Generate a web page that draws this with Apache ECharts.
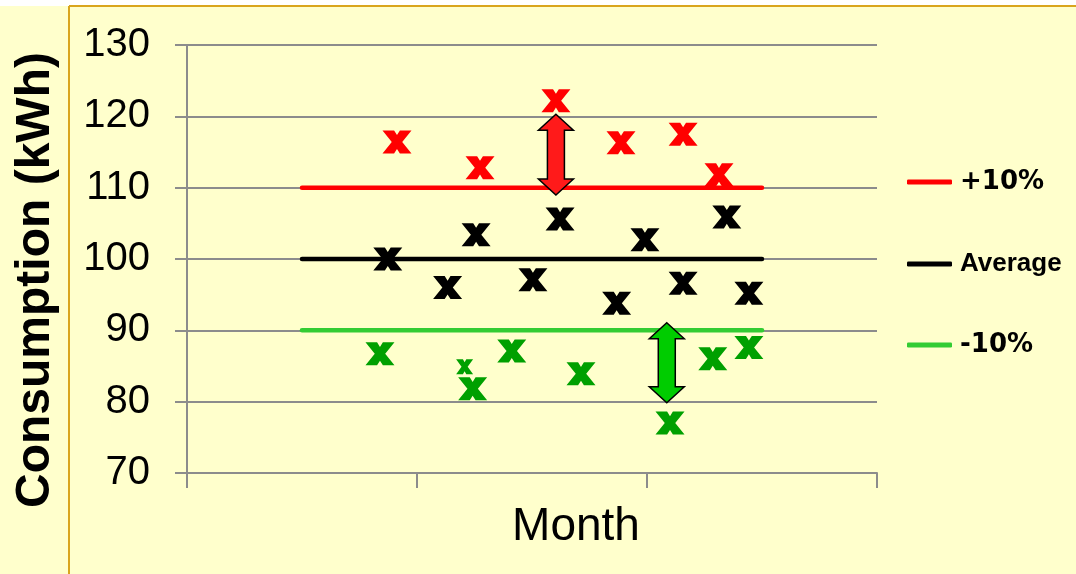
<!DOCTYPE html>
<html>
<head>
<meta charset="utf-8">
<script src="https://cdn.jsdelivr.net/npm/echarts@6/dist/echarts.min.js"></script>
<style>
  html, body { margin: 0; padding: 0; background: #ffffcc; }
  #chart { width: 1076px; height: 574px; }
</style>
</head>
<body>
<div id="chart"></div>
<script>
// Value range and reference levels (kWh)
const yTicks = [70, 80, 90, 100, 110, 120, 130];
const monthSpan = [0, 3];
const bandSpan = [0.5, 2.5];
const upperLevel = 110;
const averageLevel = 100;
const lowerLevel = 90;

// Monthly readings: [month position, consumption]
const highReadings = [
  [0.913, 116.4], [1.274, 112.8], [1.604, 122.2],
  [1.887, 116.3], [2.157, 117.5], [2.313, 111.8]
];
const normalReadings = [
  [0.873, 100.0], [1.133, 96.0], [1.257, 103.4], [1.504, 97.1], [1.622, 105.6],
  [1.868, 93.8], [1.991, 102.7], [2.157, 96.6], [2.347, 105.9], [2.443, 95.2]
];
const lowReadings = [
  [0.839, 86.7], [1.242, 81.8], [1.412, 87.1], [1.713, 83.9],
  [2.100, 77.0], [2.286, 86.0], [2.443, 87.6]
];
const minorLowReadings = [[1.207, 84.9]];

// Deviation arrows: [month position, lower end, upper end]
const deviationArrows = [
  [1.604, 108.97, 120.3],
  [2.086, 79.85, 91.07]
];

const LEVEL_NAMES = ['+10%', 'Average', '-10%'];
const arrowFills = ['#ff1a1a', '#00cc00'];

// Bold "x" mark drawn as a path
const X_MARK = 'path://M0,0 L40,0 L50,16 L60,0 L100,0 L68,40 L100,80 L60,80 L50,64 L40,80 L0,80 L32,40 Z';

const gray = '#8c8c8c';
const baseFont = '"Liberation Sans", Arial, sans-serif';
const wideFont = '"DejaVu Sans", Verdana, sans-serif';

function levelLine(name, level, color) {
  return {
    name: name,
    type: 'line',
    data: [[bandSpan[0], level], [bandSpan[1], level]],
    showSymbol: false,
    symbol: 'none',
    silent: true,
    z: 2,
    lineStyle: { color: color, width: 4.5, cap: 'round' },
    itemStyle: { color: color }
  };
}

function marks(data, color, size) {
  return {
    type: 'scatter',
    data: data,
    symbol: X_MARK,
    symbolSize: size,
    itemStyle: { color: color, opacity: 1 },
    z: 5,
    silent: true
  };
}

function legendFor(name, top, family, size) {
  return {
    data: [{ name: name, icon: 'roundRect' }],
    left: 907,
    top: top,
    padding: 0,
    orient: 'vertical',
    itemWidth: 45,
    itemHeight: 5,
    selectedMode: false,
    textStyle: {
      color: '#000',
      fontFamily: family,
      fontWeight: 'bold',
      fontSize: size,
      lineHeight: 30,
      padding: [0, 0, 0, 3]
    }
  };
}

const chart = echarts.init(document.getElementById('chart'), null, { renderer: 'canvas' });

chart.setOption({
  backgroundColor: '#ffffcc',
  animation: false,
  graphic: [
    { type: 'rect', shape: { x: 0, y: 0, width: 1076, height: 6 }, style: { fill: '#ffffff' }, silent: true },
    { type: 'line', shape: { x1: 69, y1: 6, x2: 1076, y2: 6 }, style: { stroke: '#d9a51e', lineWidth: 2 }, silent: true },
    { type: 'line', shape: { x1: 69, y1: 6, x2: 69, y2: 574 }, style: { stroke: '#d9a51e', lineWidth: 2 }, silent: true }
  ],
  legend: [
    legendFor(LEVEL_NAMES[0], 167, wideFont, 26),
    legendFor(LEVEL_NAMES[1], 249, baseFont, 26),
    legendFor(LEVEL_NAMES[2], 330, wideFont, 26)
  ],
  grid: { left: 187, right: 199, top: 45, bottom: 101, containLabel: false, outerBoundsMode: 'none' },
  xAxis: {
    type: 'value',
    min: monthSpan[0],
    max: monthSpan[1],
    interval: 1,
    name: 'Month',
    nameLocation: 'middle',
    nameGap: 31,
    nameTextStyle: { fontFamily: baseFont, fontSize: 46, color: '#000', padding: [0, 0, 0, 88] },
    axisLine: { show: true, onZero: false, lineStyle: { color: gray, width: 2 } },
    axisTick: { show: true, inside: false, length: 15, lineStyle: { color: gray, width: 2 } },
    axisLabel: { show: false },
    splitLine: { show: false }
  },
  yAxis: {
    type: 'value',
    min: yTicks[0],
    max: yTicks[yTicks.length - 1],
    interval: yTicks[1] - yTicks[0],
    name: 'Consumption (kWh)',
    nameLocation: 'middle',
    nameRotate: 90,
    nameGap: 127,
    nameTextStyle: {
      fontFamily: baseFont, fontWeight: 'bold', fontSize: 48, color: '#000',
      padding: [0, 42, 0, 0]
    },
    axisLine: { show: true, lineStyle: { color: gray, width: 2 } },
    axisTick: { show: true, inside: false, length: 12, lineStyle: { color: gray, width: 2 } },
    axisLabel: {
      fontFamily: baseFont, fontSize: 40, color: '#000', margin: 37,
      formatter: function (v) { return yTicks.indexOf(v) >= 0 ? String(v) : ''; }
    },
    splitLine: { show: true, lineStyle: { color: gray, width: 2 } }
  },
  series: [
    levelLine(LEVEL_NAMES[0], upperLevel, '#ff0000'),
    levelLine(LEVEL_NAMES[1], averageLevel, '#000000'),
    levelLine(LEVEL_NAMES[2], lowerLevel, '#33cc33'),
    {
      type: 'custom',
      data: deviationArrows,
      encode: { x: 0, y: [1, 2] },
      z: 4,
      silent: true,
      renderItem: function (params, api) {
        const x = api.value(0);
        const top = api.coord([x, api.value(2)]);
        const bot = api.coord([x, api.value(1)]);
        const cx = top[0], yt = top[1], yb = bot[1];
        const hw = 17.5, sw = 8.5, hh = 16;
        return {
          type: 'polygon',
          shape: {
            points: [
              [cx, yt], [cx + hw, yt + hh], [cx + sw, yt + hh], [cx + sw, yb - hh],
              [cx + hw, yb - hh], [cx, yb], [cx - hw, yb - hh], [cx - sw, yb - hh],
              [cx - sw, yt + hh], [cx - hw, yt + hh]
            ]
          },
          style: { fill: arrowFills[params.dataIndex], stroke: '#000', lineWidth: 1.5, lineJoin: 'miter' }
        };
      }
    },
    marks(highReadings, '#ff0000', [29, 23]),
    marks(normalReadings, '#000000', [29, 23]),
    marks(lowReadings, '#00a000', [29, 23]),
    marks(minorLowReadings, '#00a000', [17, 15])
  ]
});
</script>
</body>
</html>
